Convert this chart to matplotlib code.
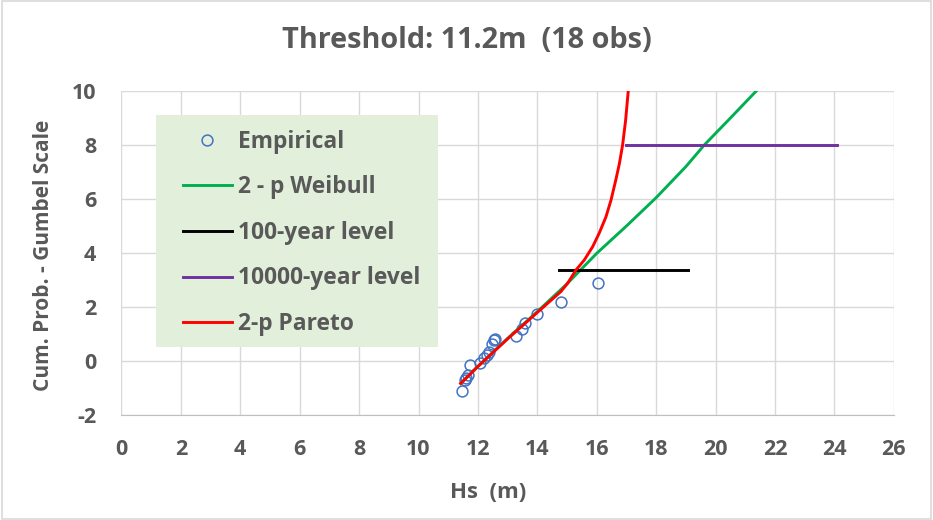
import matplotlib
matplotlib.use("Agg")
import matplotlib.pyplot as plt
from matplotlib.patches import Rectangle

plt.rcParams['font.family'] = ['Open Sans', 'DejaVu Sans']
plt.rcParams['font.weight'] = 'bold'
plt.rcParams['axes.unicode_minus'] = False

# empirical points (Hs, reduced Gumbel variate)
emp_hs = [11.48, 11.55, 11.61, 11.66, 11.74, 12.08, 12.21, 12.32, 12.38,
          12.48, 12.55, 12.58, 13.29, 13.50, 13.58, 13.99, 14.81, 16.03]
emp_y = [-1.10, -0.72, -0.62, -0.52, -0.15, -0.06, 0.10, 0.22, 0.32,
         0.62, 0.76, 0.80, 0.94, 1.20, 1.42, 1.74, 2.19, 2.88]

# fitted 2-parameter Weibull
wei_hs = [11.42, 12.0, 13.0, 14.0, 15.0, 16.0, 17.0, 18.0, 19.0, 19.62, 20.5, 21.37, 21.7]
wei_y = [-0.83, -0.20, 0.84, 1.83, 2.86, 3.99, 5.0, 6.05, 7.2, 8.0, 9.0, 10.0, 10.4]

# fitted 2-parameter Pareto
par_hs = [11.42, 12.0, 13.0, 14.0, 14.79, 15.02, 15.3, 15.58, 15.86, 16.08,
          16.31, 16.48, 16.64, 16.76, 16.87, 16.97, 17.06, 17.1]
par_y = [-0.83, -0.20, 0.82, 1.80, 2.57, 2.88, 3.37, 3.74, 4.23, 4.73,
         5.34, 5.96, 6.70, 7.30, 8.0, 8.9, 10.0, 10.5]

# return levels
lvl100_hs = [14.73, 19.06]
lvl100_y = [3.37, 3.37]
lvl10000_hs = [16.98, 24.1]
lvl10000_y = [8.0, 8.0]

grey = '#595959'

fig = plt.figure(figsize=(9.33, 5.2), dpi=100)
ax = fig.add_axes([0.1302, 0.2019, 0.8278, 0.6231])

ax.plot(emp_hs, emp_y, 'o', ms=7.8, mfc='none', mec='#4472C4', mew=1.1,
        label='Empirical', zorder=3)
ax.plot(wei_hs, wei_y, color='#00B050', lw=2.1, label='2 - p Weibull', zorder=4)
ax.plot(lvl100_hs, lvl100_y, color='black', lw=2.1, label='100-year level', zorder=4)
ax.plot(lvl10000_hs, lvl10000_y, color='#7030A0', lw=2.1, label='10000-year level', zorder=4)
ax.plot(par_hs, par_y, color='#FF0000', lw=2.1, label='2-p Pareto', zorder=5)

ax.set_xlim(0, 26)
ax.set_ylim(-2, 10)
ax.set_xticks(range(0, 27, 2))
ax.set_yticks(range(-2, 11, 2))
ax.grid(True, color='#D9D9D9', lw=1.0)
ax.set_axisbelow(True)
for s in ['top', 'right', 'left']:
    ax.spines[s].set_visible(False)
ax.spines['bottom'].set_color('#BFBFBF')
ax.tick_params(axis='x', length=0, pad=17.5, labelsize=15.5, labelcolor=grey)
ax.tick_params(axis='y', length=0, pad=18, labelsize=15.5, labelcolor=grey)

fig.text(0.5, 1 - 40 / 520, 'Threshold: 11.2m  (18 obs)', ha='center', va='center',
         fontsize=20.8, color=grey)
fig.text(488 / 933, 1 - 493 / 520, 'Hs  (m)', ha='center', va='center',
         fontsize=16, color=grey)
fig.text(44 / 933, 1 - 255 / 520, 'Cum. Prob. - Gumbel Scale', ha='center', va='center',
         rotation=90, fontsize=15, color=grey)

# legend panel: light green box behind a frameless legend
ax.add_patch(Rectangle((0.0447, 0.2099), 0.3652, 0.7161, transform=ax.transAxes,
                       facecolor='#E2EFDA', edgecolor='none', zorder=1))
leg = ax.legend(loc='upper left', bbox_to_anchor=(0.0796, 0.881), borderaxespad=0,
                fontsize=16.4, frameon=False, borderpad=0, labelspacing=0.95,
                handlelength=2.15, handletextpad=0.25)
for t in leg.get_texts():
    t.set_color(grey)

fig.patches.append(Rectangle((0.002, 0.002), 0.996, 0.996, transform=fig.transFigure,
                             fill=False, edgecolor='#D9D9D9', lw=1.2))

fig.savefig('out.png', dpi=100)
